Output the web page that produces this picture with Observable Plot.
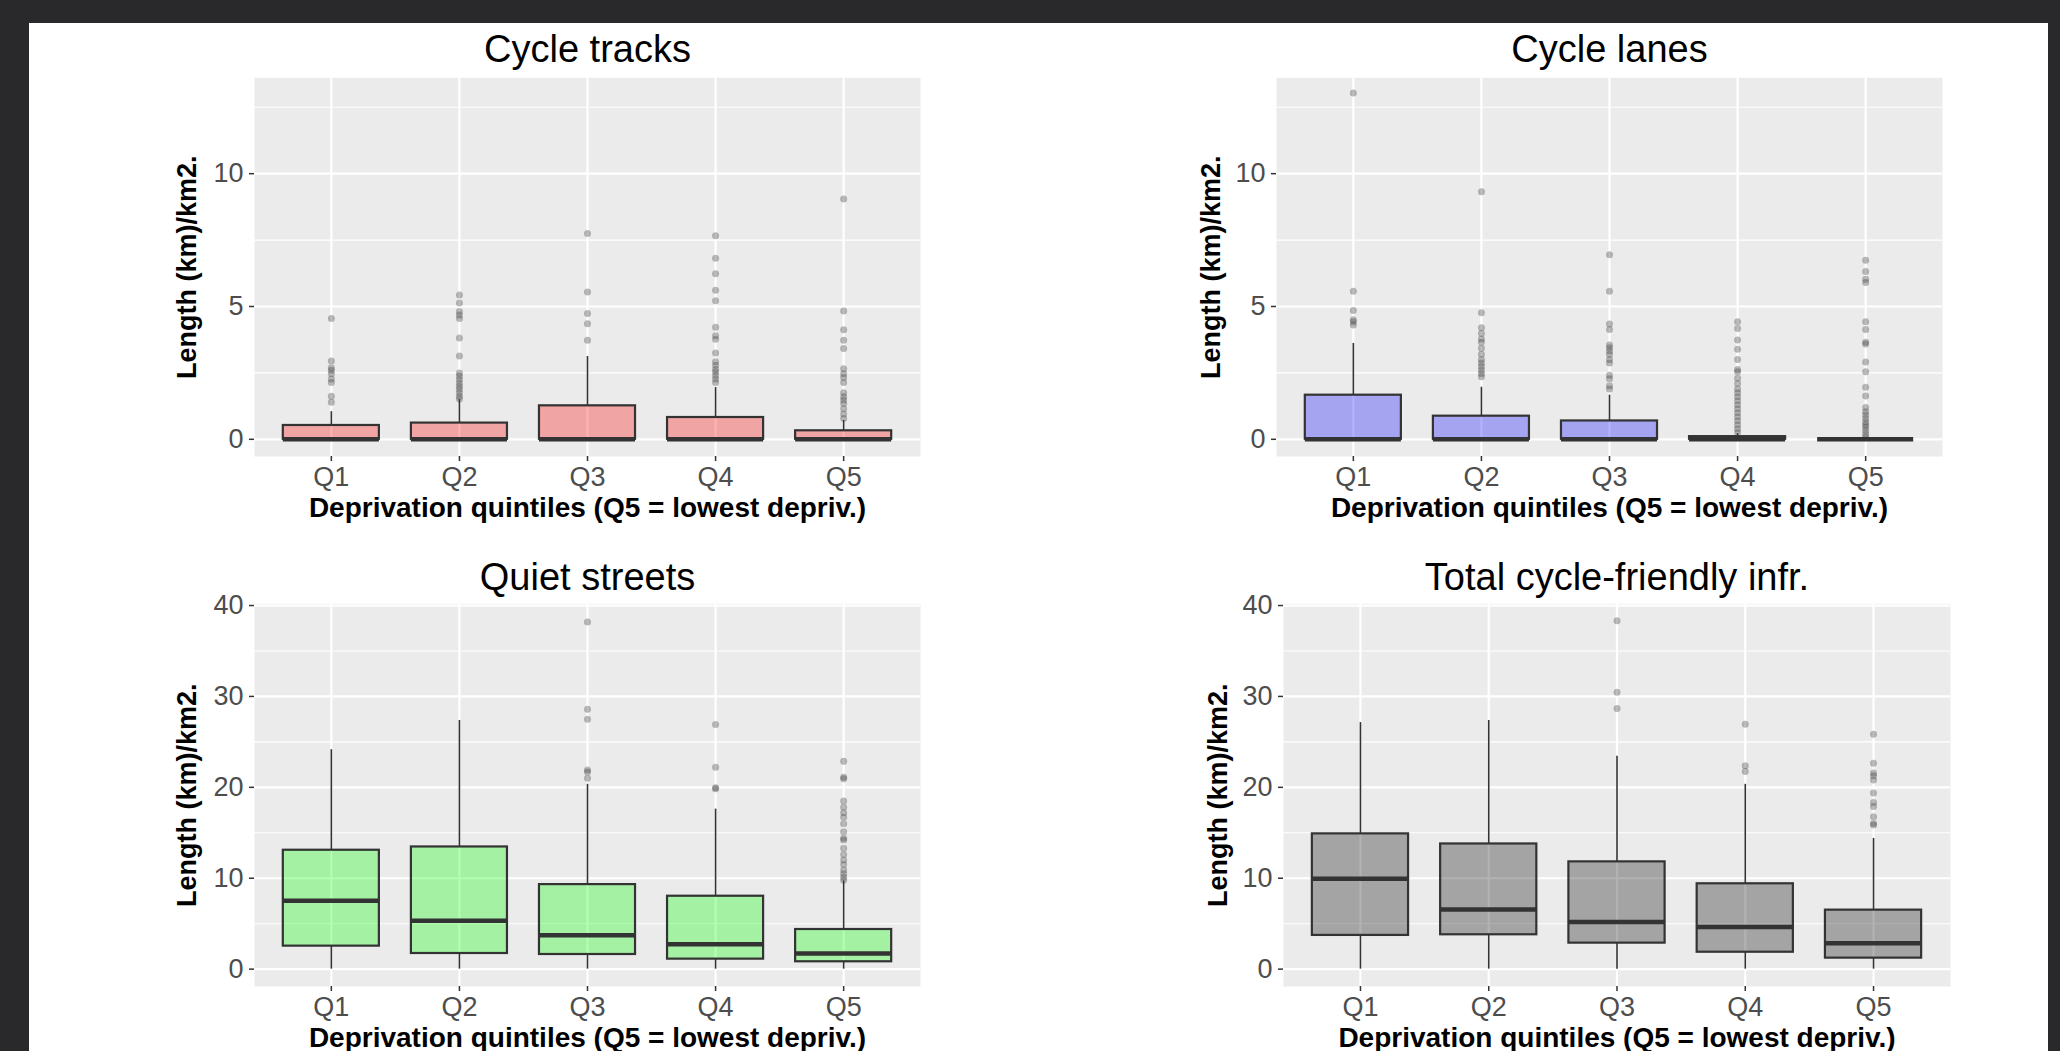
<!DOCTYPE html>
<html><head><meta charset="utf-8">
<script src="https://cdn.jsdelivr.net/npm/d3@7"></script>
<script src="https://cdn.jsdelivr.net/npm/@observablehq/plot@0.6"></script>
<style>
html,body{margin:0;padding:0;background:#29292b;width:2060px;height:1051px;overflow:hidden;}
#sheet{position:absolute;left:29px;top:23px;width:2019px;height:1040px;background:#ffffff;}
.panel{position:absolute;}
</style></head><body>
<div id="sheet"></div>
<div id="charts"></div>
<script>
const quintiles = ["Q1","Q2","Q3","Q4","Q5"];
const yTitle = "Length (km)/km2.";
const xTitle = "Deprivation quintiles (Q5 = lowest depriv.)";
const titles = ["Cycle tracks","Cycle lanes","Quiet streets","Total cycle-friendly infr."];

// Cycle tracks
const tracksLow = [0,0,0,0,0];
const tracksQ1 = [0,0,0,0,0];
const tracksMedian = [0,0,0,0,0];
const tracksQ3 = [0.52,0.61,1.26,0.82,0.32];
const tracksHigh = [1.04,1.49,3.12,1.95,0.71];
const tracksOutliers = [
  [1.39,1.62,2.14,2.27,2.47,2.6,2.69,2.95,4.55],
  [1.52,1.62,1.75,1.88,2.0,2.12,2.25,2.38,2.5,3.14,3.81,4.55,4.68,4.81,5.13,5.43],
  [3.73,4.35,4.74,5.55,7.75],
  [2.14,2.27,2.4,2.53,2.64,2.79,2.92,3.25,3.77,3.9,4.22,5.22,5.61,6.23,6.82,7.66],
  [0.78,0.95,1.15,1.35,1.48,1.6,1.75,2.14,2.33,2.47,2.66,3.42,3.73,4.12,4.83,9.05]
];

// Cycle lanes
const lanesLow = [0,0,0,0,0];
const lanesQ1 = [0,0,0,0,0];
const lanesMedian = [0,0,0,0,0];
const lanesQ3 = [1.66,0.87,0.69,0.1,0];
const lanesHigh = [3.61,1.96,1.66,0.22,0];
const lanesOutliers = [
  [4.3,4.43,4.5,4.85,5.57,13.04],
  [2.35,2.48,2.61,2.74,2.87,3.0,3.2,3.43,3.65,3.78,3.98,4.2,4.76,9.32],
  [1.89,2.02,2.28,2.41,2.87,3.0,3.19,3.32,3.45,3.55,4.13,4.34,5.57,6.95],
  [0.26,0.4,0.55,0.7,0.85,1.0,1.15,1.3,1.45,1.6,1.75,1.89,2.1,2.3,2.54,2.63,3.0,3.39,3.74,4.17,4.43],
  [0.09,0.2,0.33,0.45,0.55,0.65,0.78,0.91,1.04,1.2,1.63,1.96,2.54,2.91,3.59,3.65,4.13,4.43,5.9,6.03,6.32,6.74]
];

// Quiet streets
const quietLow = [0,0,0,0,0];
const quietQ1 = [2.53,1.72,1.61,1.10,0.81];
const quietMedian = [7.51,5.31,3.74,2.75,1.72];
const quietQ3 = [13.08,13.44,9.30,8.02,4.36];
const quietHigh = [24.14,27.36,20.33,17.6,9.7];
const quietOutliers = [
  [],
  [],
  [21.0,21.7,21.9,27.5,28.6,38.2],
  [19.85,19.96,22.2,26.9],
  [9.78,10.1,10.5,10.9,11.5,12.0,12.6,13.3,14.2,14.4,15.1,16.0,16.7,17.2,17.8,18.5,20.95,21.1,22.86]
];

// Total cycle-friendly infrastructure
const totalLow = [0,0,0,0,0];
const totalQ1 = [3.71,3.78,2.86,1.86,1.21];
const totalMedian = [9.94,6.57,5.19,4.64,2.86];
const totalQ3 = [14.88,13.77,11.8,9.39,6.49];
const totalHigh = [27.12,27.35,23.41,20.33,14.38];
const totalOutliers = [
  [],
  [],
  [28.68,30.46,38.33],
  [21.74,22.37,26.94],
  [15.85,16.03,16.77,17.9,18.34,19.38,20.8,21.28,21.58,22.64,25.83]
];

const topTicks = [0,5,10];
const topMinor = [2.5,7.5,12.5];
const bottomTicks = [0,10,20,30,40];
const bottomMinor = [5,15,25,35];

const FONT = "'Liberation Sans', Arial, sans-serif";
const BOXW = 0.375;

function boxPanel(cfg) {
  const idx = quintiles.map((q, i) => i + 1);
  const boxes = quintiles.map((q, i) => ({
    x: i + 1, low: cfg.low[i], q1: cfg.q1[i], med: cfg.med[i], q3: cfg.q3[i], high: cfg.high[i]
  }));
  const pts = cfg.outliers.flatMap((arr, i) => arr.map(v => ({x: i + 1, v})));
  const chart = Plot.plot({
    width: cfg.width, height: cfg.height,
    marginLeft: cfg.ml, marginRight: cfg.mr, marginTop: cfg.mt, marginBottom: cfg.mb,
    style: {fontFamily: FONT, background: "transparent", overflow: "visible", color: "black"},
    x: {type: "linear", domain: [0.4, 5.6]},
    y: {domain: cfg.yDomain},
    marks: [
      Plot.frame({fill: "#EBEBEB", stroke: "none"}),
      Plot.ruleY(cfg.minor, {stroke: "white", strokeWidth: 1.1}),
      Plot.ruleY(cfg.ticks, {stroke: "white", strokeWidth: 2.2}),
      Plot.ruleX(idx, {stroke: "white", strokeWidth: 2.2}),
      Plot.ruleX(boxes, {x: "x", y1: "q3", y2: "high", stroke: "#333333", strokeWidth: 1.6}),
      Plot.ruleX(boxes, {x: "x", y1: "low", y2: "q1", stroke: "#333333", strokeWidth: 1.6}),
      Plot.rect(boxes, {x1: d => d.x - BOXW, x2: d => d.x + BOXW, y1: "q1", y2: "q3",
        fill: cfg.fill, fillOpacity: 0.3, stroke: "#333333", strokeWidth: 2.2}),
      Plot.ruleY(boxes, {x1: d => d.x - BOXW, x2: d => d.x + BOXW, y: "med", stroke: "#333333", strokeWidth: 4.5}),
      Plot.dot(pts, {x: "x", y: "v", r: 3.5, fill: "#333333", fillOpacity: 0.33, stroke: "none"}),
      Plot.axisY(cfg.ticks, {tickSize: 5, tickPadding: 6, fontSize: 27, fill: "#4D4D4D", stroke: "#333333", strokeWidth: 1.5, label: null}),
      Plot.axisX(idx, {tickSize: 5, tickPadding: 5, fontSize: 27, fill: "#4D4D4D", stroke: "#333333", strokeWidth: 1.5,
        tickFormat: d => quintiles[d - 1], label: null}),
      Plot.text([cfg.title], {frameAnchor: "top", lineAnchor: "bottom", textAnchor: "middle", dy: cfg.titleDy, fontSize: 38, fill: "black"}),
      Plot.text([yTitle], {frameAnchor: "left", lineAnchor: "bottom", textAnchor: "middle", rotate: -90, dx: cfg.yTitleDx,
        fontSize: 27, fontWeight: "bold", fill: "black"}),
      Plot.text([xTitle], {frameAnchor: "bottom", lineAnchor: "bottom", textAnchor: "middle", dy: 60.7, fontSize: 28, fontWeight: "bold", fill: "black"})
    ]
  });
  chart.classList.add("panel");
  chart.style.left = cfg.left + "px";
  chart.style.top = cfg.top + "px";
  document.getElementById("charts").appendChild(chart);
}

const topDomain = [-0.648, 13.61];
const bottomDomain = [-1.91, 40.19];

boxPanel({title: titles[0], low: tracksLow, q1: tracksQ1, med: tracksMedian, q3: tracksQ3, high: tracksHigh,
  outliers: tracksOutliers, fill: "red", yDomain: topDomain, ticks: topTicks, minor: topMinor,
  left: 29, top: 23, width: 1010, height: 527, ml: 225, mr: 119, mt: 54.3, mb: 94, titleDy: -16, yTitleDx: -58.5});
boxPanel({title: titles[1], low: lanesLow, q1: lanesQ1, med: lanesMedian, q3: lanesQ3, high: lanesHigh,
  outliers: lanesOutliers, fill: "blue", yDomain: topDomain, ticks: topTicks, minor: topMinor,
  left: 1039, top: 23, width: 1009, height: 527, ml: 237, mr: 106, mt: 54.3, mb: 94, titleDy: -16, yTitleDx: -56.5});
boxPanel({title: titles[2], low: quietLow, q1: quietQ1, med: quietMedian, q3: quietQ3, high: quietHigh,
  outliers: quietOutliers, fill: "#00ff00", yDomain: bottomDomain, ticks: bottomTicks, minor: bottomMinor,
  left: 29, top: 550, width: 1010, height: 501, ml: 225, mr: 119, mt: 53.3, mb: 65, titleDy: -14, yTitleDx: -58.5});
boxPanel({title: titles[3], low: totalLow, q1: totalQ1, med: totalMedian, q3: totalQ3, high: totalHigh,
  outliers: totalOutliers, fill: "black", yDomain: bottomDomain, ticks: bottomTicks, minor: bottomMinor,
  left: 1039, top: 550, width: 1009, height: 501, ml: 244, mr: 98, mt: 53.3, mb: 65, titleDy: -14, yTitleDx: -56.5});
</script>
</body></html>
